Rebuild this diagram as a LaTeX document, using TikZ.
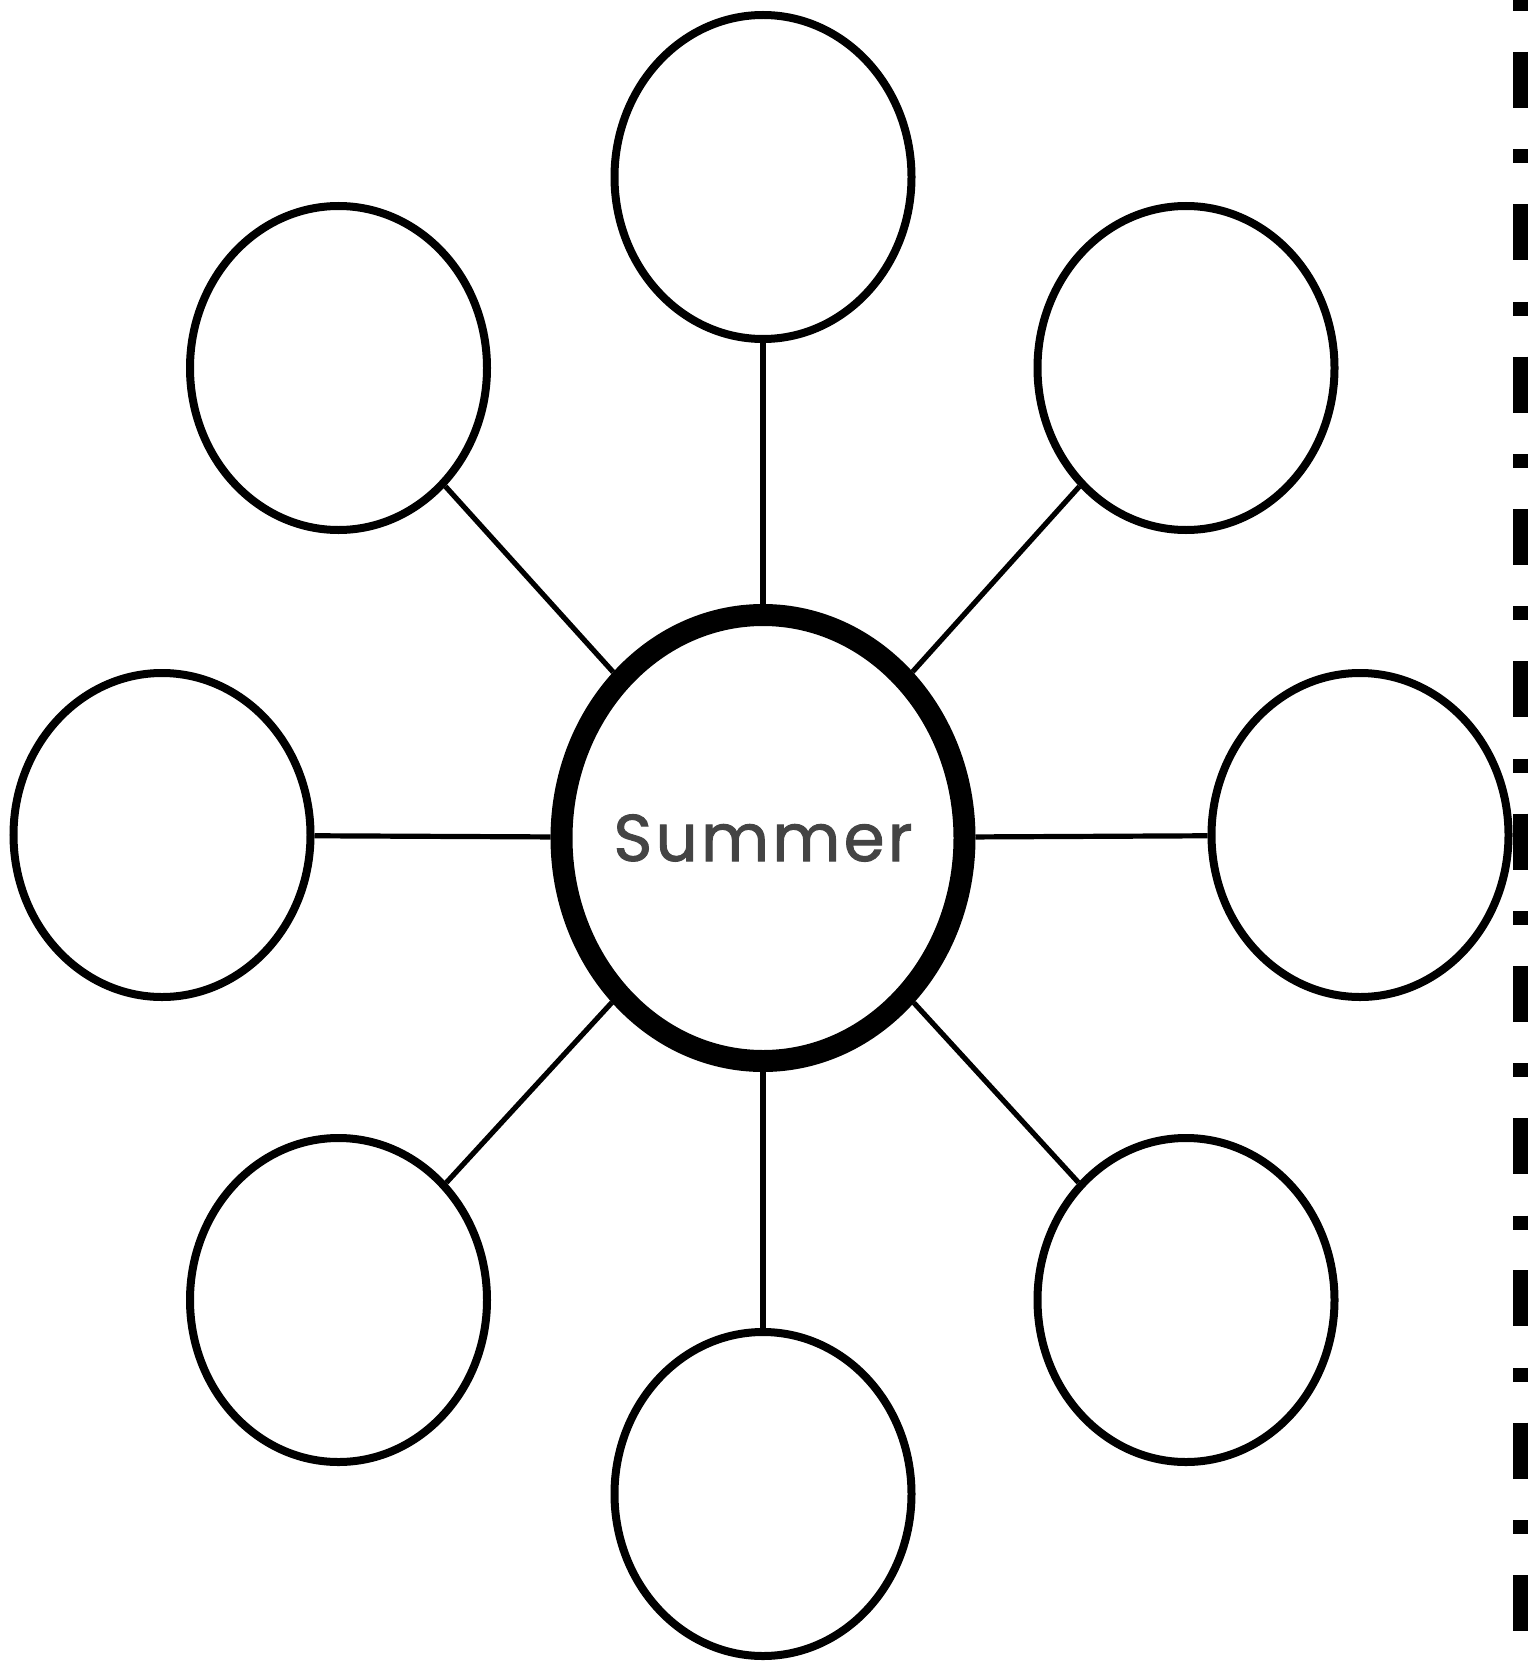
\documentclass[tikz,border=0pt]{standalone}
\usepackage{fontspec}
\setmainfont{Poppins}
\usetikzlibrary{shapes.geometric}
\definecolor{wordgray}{HTML}{444444}

\begin{document}
\begin{tikzpicture}[x=0.5pt, y=-0.5pt,
    bubble/.style={draw, ellipse, line width=4pt, minimum width=148.5pt, minimum height=162pt, inner sep=0pt},
    hub/.style={draw, ellipse, line width=11pt, minimum width=201.5pt, minimum height=223pt, inner sep=0pt,
      text=wordgray, font=\addfontfeatures{LetterSpace=5,FakeBold=1.5}\fontsize{33}{40}\selectfont},
    spoke/.style={line width=2.6pt}]

    \useasboundingbox (0,0) rectangle (1531,1664);

    % Center word
    \node[hub] (summer) at (763,838) {\makebox[0pt]{\raisebox{-1.5pt}{Summer}}};

    % Outer bubbles
    \node[bubble] (top) at (763,177) {};
    \node[bubble] (topleft) at (338.5,368) {};
    \node[bubble] (topright) at (1186,368) {};
    \node[bubble] (left) at (162,835) {};
    \node[bubble] (right) at (1360,835) {};
    \node[bubble] (botleft) at (338.5,1300) {};
    \node[bubble] (botright) at (1186,1300) {};
    \node[bubble] (bottom) at (763,1494) {};

    % Spokes
    \draw[spoke] (summer) -- (top);
    \draw[spoke] (summer) -- (topleft);
    \draw[spoke] (summer) -- (topright);
    \draw[spoke] (summer) -- (left);
    \draw[spoke] (summer) -- (right);
    \draw[spoke] (summer) -- (botleft);
    \draw[spoke] (summer) -- (botright);
    \draw[spoke] (summer) -- (bottom);

    % Cut line on the right
    \draw[line width=7.5pt, dash pattern=on 28pt off 20.75pt on 7pt off 20.4pt, dash phase=50.15pt]
      (1520.5,0) -- (1520.5,1664);

\end{tikzpicture}
\end{document}
